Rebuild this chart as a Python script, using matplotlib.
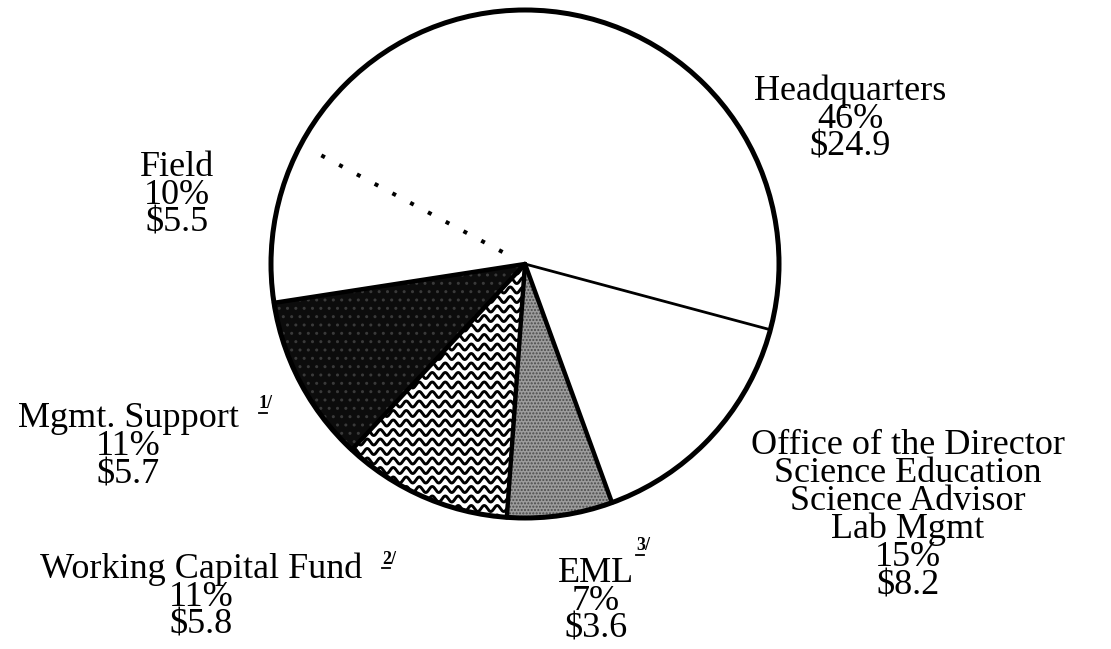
import numpy as np
import matplotlib
matplotlib.use("Agg")
import matplotlib.pyplot as plt
from matplotlib.patches import Circle

# slice data, counter-clockwise starting from Headquarters
names = ["Headquarters", "Field", "Mgmt. Support", "Working Capital Fund", "EML",
         "Office of the Director\nScience Education\nScience Advisor\nLab Mgmt"]
pcts = [46, 10, 11, 11, 7, 15]
amounts = [24.9, 5.5, 5.7, 5.8, 3.6, 8.2]
notes = ["", "", "1/", "2/", "3/", ""]

W, H = 1111, 649
cx, cy, R = 525, H - 264, 254
start = -15

plt.rcParams['font.family'] = ['Liberation Serif', 'DejaVu Serif']

fig = plt.figure(figsize=(W / 100, H / 100), dpi=100)
ax = fig.add_axes([0, 0, 1, 1])

colors = ["white", "white", "#0c0c0c", "white", "#9c9c9c", "white"]
wedges, _ = ax.pie(amounts, startangle=start, counterclock=True, center=(cx, cy),
                   radius=R, colors=colors, wedgeprops=dict(linewidth=0))
ax.set_xlim(0, W)
ax.set_ylim(0, H)
ax.set_aspect('equal')
ax.axis('off')

# textures
wedges[2].set_hatch('..')
wedges[2].set_edgecolor('#3a3a3a')
wedges[4].set_hatch('.....')
wedges[4].set_edgecolor('#4a4a4a')

# wavy fill for Working Capital Fund
xs = np.linspace(cx - R, cx + 10, 800)
for y0 in np.arange(cy - R, cy + 10, 9.5):
    ln, = ax.plot(xs, y0 + 3.0 * np.sin(2 * np.pi * xs / 13), color='black', lw=2.1)
    ln.set_clip_path(wedges[3])

# slice boundaries
bounds = start + 360 * np.cumsum([0] + amounts[:-1]) / sum(amounts)
for i, a in enumerate(bounds):
    t = np.deg2rad(a)
    if i == 1:
        ax.plot([cx + 0.10 * R * np.cos(t), cx + 0.93 * R * np.cos(t)],
                [cy + 0.10 * R * np.sin(t), cy + 0.93 * R * np.sin(t)],
                color='black', lw=2.9, linestyle=(0, (1, 4)), dash_capstyle='butt')
    else:
        lw = 2.0 if i == 0 else 3.2
        ax.plot([cx, cx + R * np.cos(t)], [cy, cy + R * np.sin(t)],
                color='black', lw=lw, solid_capstyle='round')
ax.add_patch(Circle((cx, cy), R, fill=False, ec='black', lw=3.6))

# labels (pixel positions from top-left)
lab_x = [850, 177, 128, 201, 596, 908]
lab_y = [75, 152, 403, 553, 558, 430]
for n, p, a, x, y in zip(names, pcts, amounts, lab_x, lab_y):
    ax.text(x, H - y + 1, f"{n}\n{p}%\n${a}", ha='center', va='top',
            fontsize=26, linespacing=0.8, multialignment='center')

# footnote marks
note_x = [0, 0, 266, 389, 643, 0]
note_y = [0, 0, 404, 559, 546, 0]
for s, x, y in zip(notes, note_x, note_y):
    if s:
        ax.text(x, H - y, s, ha='center', va='center', fontsize=13, fontweight='bold')
        ax.plot([x - 7, x + 1], [H - y - 9, H - y - 9], color='black', lw=1.3)

fig.savefig("out.png", dpi=100)
